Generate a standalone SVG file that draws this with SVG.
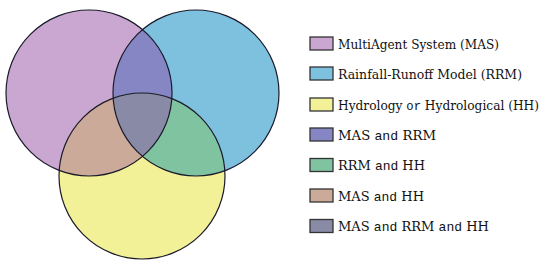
<svg xmlns="http://www.w3.org/2000/svg" width="550" height="271" viewBox="0 0 550 271">
<style>
.ol{fill:none;stroke:#1a1a2a;stroke-width:1.2}
.sw{stroke:#333;stroke-width:1.3}
</style>
<defs>
<clipPath id="cMAS"><circle cx="89" cy="93" r="83"/></clipPath>
<clipPath id="cRRM"><circle cx="196" cy="93" r="83"/></clipPath>
<clipPath id="cMASRRM" clip-path="url(#cMAS)"><circle cx="196" cy="93" r="83"/></clipPath>
</defs>
<rect width="550" height="271" fill="#ffffff"/>
<g id="venn">
<circle id="MAS" cx="89" cy="93" r="83" fill="#C9A7D0"/>
<circle id="RRM" cx="196" cy="93" r="83" fill="#7DC1DF"/>
<circle id="HH" cx="142" cy="176" r="83" fill="#F3F198"/>
<circle id="MAS_RRM" cx="196" cy="93" r="83" fill="#8786C4" clip-path="url(#cMAS)"/>
<circle id="RRM_HH" cx="142" cy="176" r="83" fill="#80C3A1" clip-path="url(#cRRM)"/>
<circle id="MAS_HH" cx="142" cy="176" r="83" fill="#CBAA9A" clip-path="url(#cMAS)"/>
<circle id="ALL" cx="142" cy="176" r="83" fill="#898BA6" clip-path="url(#cMASRRM)"/>
<circle class="ol" cx="89" cy="93" r="83"/>
<circle class="ol" cx="196" cy="93" r="83"/>
<circle class="ol" cx="142" cy="176" r="83"/>
</g>
<g id="legend" font-family="DejaVu Serif, serif" font-size="13" fill="#111">
<g id="lg1"><rect class="sw" x="310" y="37" width="23" height="13" fill="#C9A7D0"/><text x="338" y="48.5" textLength="161" lengthAdjust="spacingAndGlyphs">MultiAgent System (MAS)</text></g>
<g id="lg2"><rect class="sw" x="310" y="67" width="23" height="13" fill="#7DC1DF"/><text x="338" y="78.5" textLength="184" lengthAdjust="spacingAndGlyphs">Rainfall-Runoff Model (RRM)</text></g>
<g id="lg3"><rect class="sw" x="310" y="98" width="23" height="13" fill="#F3F198"/><text x="338" y="109.5" textLength="201" lengthAdjust="spacingAndGlyphs">Hydrology <tspan font-family="Liberation Mono, monospace">or</tspan> Hydrological (HH)</text></g>
<g id="lg4"><rect class="sw" x="310" y="128" width="23" height="13" fill="#8786C4"/><text x="338" y="139.5" textLength="98" lengthAdjust="spacingAndGlyphs">MAS <tspan font-family="Liberation Mono, monospace">and</tspan> RRM</text></g>
<g id="lg5"><rect class="sw" x="310" y="158.5" width="23" height="13" fill="#80C3A1"/><text x="338" y="170" textLength="87" lengthAdjust="spacingAndGlyphs">RRM <tspan font-family="Liberation Mono, monospace">and</tspan> HH</text></g>
<g id="lg6"><rect class="sw" x="310" y="189" width="23" height="13" fill="#CBAA9A"/><text x="338" y="200.5" textLength="86" lengthAdjust="spacingAndGlyphs">MAS <tspan font-family="Liberation Mono, monospace">and</tspan> HH</text></g>
<g id="lg7"><rect class="sw" x="310" y="219.5" width="23" height="13" fill="#898BA6"/><text x="338" y="231" textLength="151" lengthAdjust="spacingAndGlyphs">MAS <tspan font-family="Liberation Mono, monospace">and</tspan> RRM <tspan font-family="Liberation Mono, monospace">and</tspan> HH</text></g>
</g>
</svg>
